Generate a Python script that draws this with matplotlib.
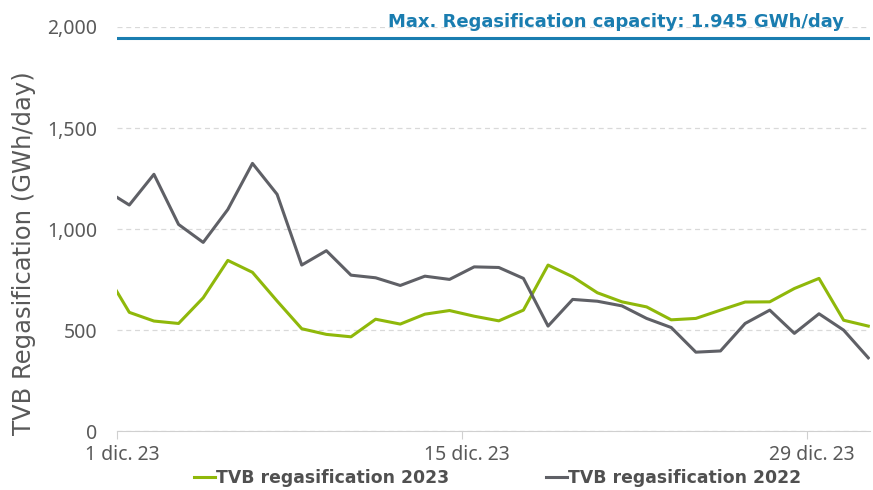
import numpy as np
import pandas as pd
import matplotlib
matplotlib.use("Agg")
import matplotlib.pyplot as plt
import matplotlib.ticker as mticker
import matplotlib.transforms as mtransforms

# Daily values (GWh/day), 30 Nov -> 31 Dec, plotted at midday
dates = pd.date_range("2023-11-30 12:00", periods=32, freq="D")
regas_2023 = [792, 588, 545, 533, 660, 845, 786, 644, 507, 479, 467, 554, 530, 579, 597, 569,
              546, 599, 822, 764, 685, 640, 615, 551, 558, 599, 639, 640, 706, 756, 549, 520]
regas_2022 = [1195, 1119, 1271, 1023, 934, 1097, 1325, 1172, 822, 893, 772, 759, 721, 767, 751, 813,
              810, 756, 520, 652, 643, 620, 558, 513, 391, 397, 533, 599, 484, 581, 500, 363]
max_capacity = 1945
capacity_label = "Max. Regasification capacity: 1.945 GWh/day"
tick_days = [1, 15, 29]

green = "#8fb80a"
grey = "#5f6066"
blue = "#1a7db0"

fig, ax = plt.subplots(figsize=(8.73, 4.9), dpi=100)
fig.subplots_adjust(left=0.134, right=0.996, top=0.945, bottom=0.12)

ax.plot(dates, regas_2023, color=green, lw=2.2, label="TVB regasification 2023")
ax.plot(dates, regas_2022, color=grey, lw=2.2, label="TVB regasification 2022")
ax.axhline(max_capacity, color=blue, lw=2.2)

x0 = pd.Timestamp("2023-12-01")
ax.set_xlim(x0, x0 + pd.Timedelta(days=30.55))
ax.set_ylim(0, 2000)

# annotation on the capacity line
ax.text(0.966, 2000, capacity_label, transform=ax.get_yaxis_transform(),
        ha="right", va="baseline", color=blue, fontsize=13, fontweight="bold", clip_on=False)

ticks = [pd.Timestamp(2023, 12, d) for d in tick_days]
ax.set_xticks(ticks)
ax.set_xticklabels([f"{d} dic. 23" for d in tick_days])
ax.set_yticks([0, 500, 1000, 1500, 2000])
ax.yaxis.set_major_formatter(mticker.FuncFormatter(lambda v, p: f"{int(v):,}"))

ax.grid(axis="y", color="#d9d9d9", ls=(0, (4, 3)), lw=0.9)
ax.set_axisbelow(True)
for s in ["top", "right", "left"]:
    ax.spines[s].set_visible(False)
ax.spines["bottom"].set_color("#d0d0d0")
ax.tick_params(axis="x", length=6, color="#d0d0d0", labelcolor="#595959", labelsize=14, pad=4)
ax.tick_params(axis="y", length=0, labelcolor="#595959", labelsize=14, pad=14)
shift = mtransforms.ScaledTranslation(5 / 100, 0, fig.dpi_scale_trans)
for lab in ax.get_xticklabels():
    lab.set_family(["Noto Sans", "DejaVu Sans"])
    lab.set_transform(lab.get_transform() + shift)
for lab in ax.get_yticklabels():
    lab.set_family(["Noto Sans", "DejaVu Sans"])

ax.set_ylabel("TVB Regasification (GWh/day)", fontsize=17.5, color="#595959", va="center")
ax.yaxis.set_label_coords(-0.124, 0.44)

leg = fig.legend(loc="center", ncol=2, frameon=False, bbox_to_anchor=(0.57, 0.025),
                 handlelength=1.25, handletextpad=0.05, columnspacing=5.6,
                 prop={"size": 12.4, "weight": "bold"})
for t in leg.get_texts():
    t.set_color("#505050")

fig.savefig("out.png", dpi=100)
